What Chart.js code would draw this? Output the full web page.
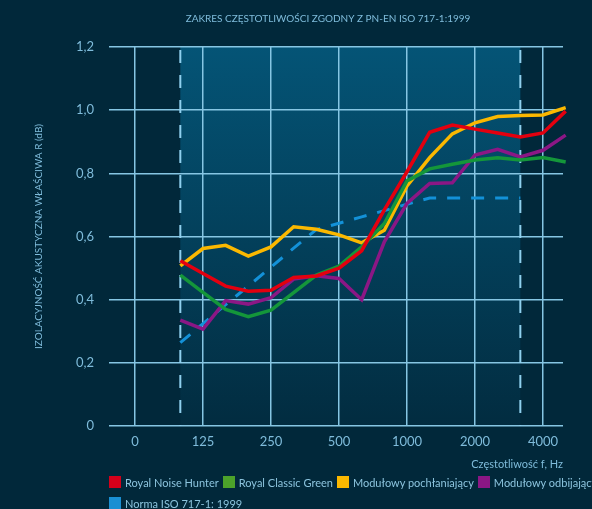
<!DOCTYPE html>
<html>
<head>
<meta charset="utf-8">
<script src="https://cdn.jsdelivr.net/npm/chart.js@4/dist/chart.umd.min.js"></script>
<style>
  html, body { margin: 0; padding: 0; background: #01283a; overflow: hidden; }
  #wrap { position: relative; width: 592px; height: 509px; overflow: hidden; }
  #legend {
    position: absolute; left: 109px; top: 476px; width: 600px;
    font: 11px Lato, sans-serif; color: #8cc4de; white-space: nowrap;
  }
  #legend div.row { display: flex; column-gap: 4px; height: 12px; margin-bottom: 9px; }
  #legend span.item { display: flex; align-items: center; height: 12px; }
  #legend span.box { width: 12px; height: 12px; margin-right: 4px; display: inline-block; }
</style>
</head>
<body>
<div id="wrap">
  <canvas id="chart" width="592" height="509"></canvas>
  <div id="legend"></div>
</div>
<script>
// 1/3-octave bands, Hz
const bands = [100, 125, 160, 200, 250, 315, 400, 500, 630, 800, 1000, 1250, 1600, 2000, 2500, 3150, 4000, 5000];
// octave tick labels (first tick stands one octave below 125)
const xTickLabels = ['0', '125', '250', '500', '1000', '2000', '4000'];

const royalNoiseHunter = [0.523, 0.483, 0.443, 0.427, 0.430, 0.470, 0.475, 0.500, 0.555, 0.684, 0.805, 0.930, 0.953, 0.940, 0.928, 0.915, 0.928, 0.997];
const royalClassicGreen = [0.478, 0.423, 0.369, 0.346, 0.367, 0.422, 0.478, 0.506, 0.567, 0.641, 0.776, 0.814, 0.829, 0.842, 0.849, 0.842, 0.850, 0.836];
const modulowyPochlaniajacy = [0.507, 0.562, 0.572, 0.538, 0.567, 0.631, 0.623, 0.605, 0.580, 0.620, 0.760, 0.850, 0.925, 0.960, 0.980, 0.983, 0.985, 1.008];
const modulowyOdbijajacy = [0.335, 0.307, 0.397, 0.386, 0.406, 0.465, 0.476, 0.467, 0.400, 0.583, 0.705, 0.768, 0.770, 0.858, 0.876, 0.852, 0.873, 0.921];
// ISO 717-1 reference curve, 100..3150 Hz
const normaIso = [0.264, 0.324, 0.384, 0.443, 0.503, 0.563, 0.622, 0.642, 0.662, 0.682, 0.702, 0.722, 0.722, 0.722, 0.722, 0.722];

const seriesNames = ['Royal Noise Hunter', 'Royal Classic Green', 'Modułowy pochłaniający', 'Modułowy odbijający', 'Norma ISO 717-1: 1999'];
const seriesColors = ['#e3000f', '#14963a', '#fbb800', '#8b1785', '#1391d8'];
const legendColors = ['#d4001a', '#4ca22a', '#fbb800', '#8b1785', '#1a8fd3'];
const legendRows = [[0, 1, 2, 3], [4]];

const rangeStart = 100;   // Hz, range covered by the norm
const rangeEnd = 3150;

// position on the octave axis: band 125 Hz = 1, each band is 1/3 octave
function bandPos(f) {
  return 1 + (bands.indexOf(f) - 1) / 3;
}
function toPoints(values) {
  return values.map((v, i) => ({ x: bandPos(bands[i]), y: v }));
}

const textColor = '#7fbcdb';
const gridColor = '#86c6e3';

// shaded band + dashed borders of the norm's frequency range
const rangePlugin = {
  id: 'rangeBand',
  beforeDatasetsDraw(chart) {
    const { ctx, chartArea, scales } = chart;
    const x1 = scales.x.getPixelForValue(bandPos(rangeStart));
    const x2 = scales.x.getPixelForValue(bandPos(rangeEnd));
    ctx.save();
    ctx.strokeStyle = '#8fd0ee';
    ctx.lineWidth = 2;
    ctx.setLineDash([13, 12]);
    [x1, x2].forEach(x => {
      ctx.beginPath();
      ctx.moveTo(x, chartArea.top + 3);
      ctx.lineTo(x, chartArea.bottom);
      ctx.stroke();
    });
    ctx.restore();
  },
  beforeDraw(chart) {
    const { ctx, chartArea, scales } = chart;
    if (!chartArea) return;
    const x1 = scales.x.getPixelForValue(bandPos(rangeStart));
    const x2 = scales.x.getPixelForValue(bandPos(rangeEnd));
    const g = ctx.createLinearGradient(0, chartArea.top, 0, chartArea.bottom);
    g.addColorStop(0, '#045476');
    g.addColorStop(1, '#022c40');
    ctx.save();
    ctx.fillStyle = g;
    ctx.fillRect(x1, chartArea.top, x2 - x1, chartArea.bottom - chartArea.top);
    // chart heading
    ctx.fillStyle = textColor;
    ctx.font = '10px Lato, sans-serif';
    ctx.textAlign = 'center';
    ctx.textBaseline = 'middle';
    ctx.fillText('ZAKRES CZĘSTOTLIWOŚCI ZGODNY Z PN-EN ISO 717-1:1999', (chartArea.left + chartArea.right) / 2 - 8, 19);
    ctx.restore();
  }
};

const datasets = [royalNoiseHunter, royalClassicGreen, modulowyPochlaniajacy, modulowyOdbijajacy, normaIso].map((vals, i) => ({
  label: seriesNames[i],
  data: toPoints(vals),
  borderColor: seriesColors[i],
  backgroundColor: legendColors[i],
  borderWidth: i === 4 ? 3 : 3.5,
  borderDash: i === 4 ? [13, 11] : [],
  pointRadius: 0,
  tension: 0,
  clip: false
}));

const chart = new Chart(document.getElementById('chart'), {
  type: 'line',
  data: { datasets: datasets },
  plugins: [rangePlugin],
  options: {
    responsive: false,
    animation: false,
    layout: { padding: { left: 0, right: 29, top: 47, bottom: 38 } },
    plugins: {
      legend: { display: false },
      tooltip: { enabled: false }
    },
    scales: {
      x: {
        type: 'linear',
        min: -0.382,
        max: 6.294,
        afterFit: scale => { scale.height = 45; },
        ticks: {
          stepSize: 1,
          includeBounds: false,
          padding: 8,
          color: textColor,
          font: { family: 'Lato', size: 13 },
          callback: v => xTickLabels[v]
        },
        grid: { color: gridColor, lineWidth: 1.5, drawTicks: false },
        border: { display: false },
        title: {
          display: true,
          text: 'Częstotliwość f, Hz',
          align: 'end',
          color: textColor,
          font: { family: 'Lato', size: 11 },
          padding: { top: 2, bottom: 0 }
        }
      },
      y: {
        min: 0,
        max: 1.2,
        afterFit: scale => { scale.width = 109; },
        ticks: {
          stepSize: 0.2,
          padding: 15,
          color: textColor,
          font: { family: 'Lato', size: 13 },
          callback: v => v === 0 ? '0' : v.toFixed(1).replace('.', ',')
        },
        grid: { color: gridColor, lineWidth: 1.5, drawTicks: false },
        border: { display: false },
        title: {
          display: true,
          text: 'IZOLACYJNOŚĆ AKUSTYCZNA WŁAŚCIWA R (dB)',
          color: textColor,
          font: { family: 'Lato', size: 10 },
          padding: { top: 33, bottom: 0 }
        }
      }
    }
  }
});

// html legend, built from the datasets
const legendEl = document.getElementById('legend');
legendRows.forEach(indices => {
  const row = document.createElement('div');
  row.className = 'row';
  indices.forEach(i => {
    const ds = chart.data.datasets[i];
    const item = document.createElement('span');
    item.className = 'item';
    const box = document.createElement('span');
    box.className = 'box';
    box.style.background = ds.backgroundColor;
    item.appendChild(box);
    item.appendChild(document.createTextNode(ds.label));
    row.appendChild(item);
  });
  legendEl.appendChild(row);
});
</script>
</body>
</html>
